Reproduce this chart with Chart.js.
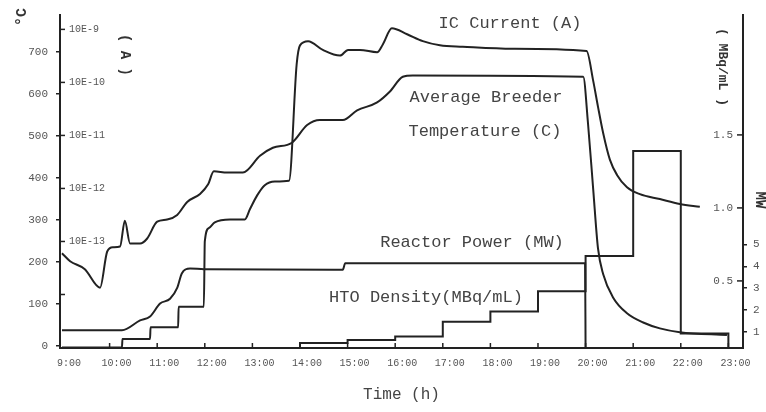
<!DOCTYPE html>
<html>
<head>
<meta charset="utf-8">
<script src="https://cdn.jsdelivr.net/npm/chart.js@4.4.0/dist/chart.umd.min.js"></script>
<style>
  html, body { margin: 0; padding: 0; background: #fff; }
</style>
</head>
<body>
<canvas id="runChart" width="766" height="412"></canvas>
<script>
// Time axis (h)
let hourTicks = [9, 10, 11, 12, 13, 14, 15, 16, 17, 18, 19, 20, 21, 22, 23];
let hourLabels = ["9:00", "10:00", "11:00", "12:00", "13:00", "14:00", "15:00", "16:00",
                  "17:00", "18:00", "19:00", "20:00", "21:00", "22:00", "23:00"];

// Average breeder temperature (C)
let tempHours = [9.00, 9.17, 9.48, 9.80, 9.95, 10.07, 10.22, 10.32, 10.43, 10.64, 10.79, 11.00,
                 11.21, 11.42, 11.63, 11.90, 12.07, 12.19, 12.47, 12.80, 13.16, 13.43, 13.83,
                 14.15, 14.42, 14.90, 15.20, 15.62, 15.89, 16.16, 16.37, 19.95, 20.05, 20.16,
                 20.26, 20.37, 20.58, 20.87, 21.21, 21.56, 21.98, 22.97];
let tempValues = [221, 202, 183, 139, 225, 235, 237, 298, 244, 244, 256, 296,
                  301, 312, 343, 362, 385, 416, 413, 413, 453, 472, 484,
                  526, 538, 538, 561, 580, 606, 641, 644, 641, 531, 373,
                  233, 171, 115, 78, 56, 42, 33, 26];

// IC current (A)
let icHours = [9.00, 10.26, 10.27, 10.85, 10.86, 11.44, 11.45, 11.98, 12.00, 12.09, 12.21, 12.53,
               12.84, 12.95, 13.10, 13.26, 13.47, 13.77, 13.93, 14.00, 14.17, 14.48, 14.84,
               15.01, 15.26, 15.62, 15.74, 15.93, 16.25, 16.58, 16.94, 17.42, 18.47, 20.02,
               20.16, 20.26, 20.37, 20.51, 20.66, 20.87, 21.14, 21.56, 21.98, 22.40];
let icValues = [1.0e-15, 1.0e-15, 1.45e-15, 1.45e-15, 2.4e-15, 2.4e-15, 5.9e-15, 5.9e-15, 1.0e-13, 1.8e-13, 2.3e-13, 2.6e-13,
                2.6e-13, 4.1e-13, 7.4e-13, 1.15e-12, 1.35e-12, 1.4e-12, 2.2e-10, 5.0e-10, 6.0e-10, 4.1e-10, 3.2e-10,
                4.1e-10, 4.1e-10, 3.7e-10, 5.2e-10, 1.05e-9, 8.1e-10, 6.0e-10, 5.0e-10, 4.7e-10, 4.3e-10, 3.9e-10,
                1.07e-10, 3.5e-11, 1.1e-11, 3.5e-12, 1.8e-12, 1.05e-12, 7.8e-13, 6.3e-13, 5.1e-13, 4.5e-13];

// Reactor power (MW)
let powerHours = [9.00, 10.26, 10.64, 10.85, 11.06, 11.27, 11.42, 11.52, 11.69, 11.98, 14.90, 14.95, 19.99, 20.00];
let powerValues = [1.08, 1.08, 1.53, 1.71, 2.30, 2.52, 3.02, 3.69, 3.90, 3.87, 3.85, 4.14, 4.14, 0];

// HTO density (MBq/mL), one value per sampling hour
let htoHours = [9, 14, 15, 16, 17, 18, 19, 20, 21, 22, 23];
let htoValues = [0, 0.074, 0.095, 0.12, 0.22, 0.29, 0.43, 0.67, 1.39, 0.14, 0];

// axis ticks
let tempTicks = [0, 100, 200, 300, 400, 500, 600, 700];
let icTicks = [1e-9, 1e-10, 1e-11, 1e-12, 1e-13, 1e-14];
let icTickLabels = ["10E-9", "10E-10", "10E-11", "10E-12", "10E-13", ""];
let htoTicks = [0.5, 1.0, 1.5];
let htoTickLabels = ["0.5", "1.0", "1.5"];
let powerTicks = [1, 2, 3, 4, 5];

const ink = "#222";
const grey = "#555";
const mono = '"Liberation Mono", "DejaVu Sans Mono", monospace';

function pairs(xs, ys) {
  return xs.map((x, i) => ({ x: x, y: ys[i] }));
}

function setTicks(list) {
  return function (scale) { scale.ticks = list.map(v => ({ value: v })); };
}

// extra ticks, inner labels and curve names
const annotate = {
  id: 'annotate',
  afterDraw(chart) {
    const ctx = chart.ctx;
    const a = chart.chartArea;
    const s = chart.scales;
    ctx.save();
    ctx.strokeStyle = ink;
    ctx.lineWidth = 1.5;
    ctx.fillStyle = grey;

    // hour marks pointing up from the time axis
    hourTicks.forEach(h => {
      if (h === 9) return;
      const x = s.x.getPixelForValue(h);
      ctx.beginPath(); ctx.moveTo(x, a.bottom); ctx.lineTo(x, a.bottom - 5); ctx.stroke();
    });

    // IC current scale, inside the left axis
    ctx.font = '10px ' + mono;
    ctx.textAlign = 'left';
    ctx.textBaseline = 'middle';
    icTicks.forEach((v, i) => {
      const y = s.ic.getPixelForValue(v);
      ctx.beginPath(); ctx.moveTo(a.left, y); ctx.lineTo(a.left + 5, y); ctx.stroke();
      if (icTickLabels[i]) ctx.fillText(icTickLabels[i], a.left + 9, y);
    });

    // HTO scale, inside the right axis
    ctx.font = '11px ' + mono;
    ctx.textAlign = 'right';
    htoTicks.forEach((v, i) => {
      const y = s.hto.getPixelForValue(v);
      ctx.beginPath(); ctx.moveTo(a.right, y); ctx.lineTo(a.right - 6, y); ctx.stroke();
      ctx.fillText(htoTickLabels[i], a.right - 10, y);
    });

    // curve names
    ctx.fillStyle = "#444";
    ctx.font = '17px ' + mono;
    ctx.textAlign = 'center';
    ctx.fillText("IC Current (A)", 510, 23);
    ctx.fillText("Average Breeder", 486, 97);
    ctx.fillText("Temperature (C)", 485, 131);
    ctx.fillText("Reactor Power (MW)", 472, 242);
    ctx.fillText("HTO Density(MBq/mL)", 426, 297);

    // rotated unit labels
    ctx.fillStyle = "#333";
    function turned(text, x, y, ang, font) {
      ctx.save();
      ctx.translate(x, y);
      ctx.rotate(ang);
      ctx.font = font;
      ctx.fillText(text, 0, 0);
      ctx.restore();
    }
    turned("°C", 22, 17, -Math.PI / 2, 'bold 15px ' + mono);
    turned("( A )", 125, 55, Math.PI / 2, 'bold 14px ' + mono);
    turned("( MBq/mL )", 722, 67, Math.PI / 2, 'bold 13px ' + mono);
    turned("MW", 760, 200, Math.PI / 2, 'bold 14px ' + mono);
    ctx.restore();
  }
};

const lineStyle = {
  borderColor: ink,
  borderWidth: 2,
  pointRadius: 0,
  fill: false
};

let runChart = new Chart(document.getElementById("runChart"), {
  type: 'line',
  data: {
    datasets: [
      Object.assign({ label: "Average Breeder Temperature (C)", data: pairs(tempHours, tempValues),
        yAxisID: 'temp', cubicInterpolationMode: 'monotone' }, lineStyle),
      Object.assign({ label: "IC Current (A)", data: pairs(icHours, icValues),
        yAxisID: 'ic', cubicInterpolationMode: 'monotone' }, lineStyle),
      Object.assign({ label: "Reactor Power (MW)", data: pairs(powerHours, powerValues),
        yAxisID: 'power', cubicInterpolationMode: 'monotone' }, lineStyle),
      Object.assign({ label: "HTO Density (MBq/mL)", data: pairs(htoHours, htoValues),
        yAxisID: 'hto', stepped: true }, lineStyle)
    ]
  },
  options: {
    responsive: false,
    animation: false,
    layout: { padding: { top: 10, left: 0, right: 0, bottom: 0 } },
    plugins: {
      legend: { display: false },
      tooltip: { enabled: false }
    },
    scales: {
      x: {
        type: 'linear',
        min: 8.958,
        max: 23.307,
        afterBuildTicks: setTicks(hourTicks),
        afterFit(scale) { scale.height = 64; },
        grid: { drawOnChartArea: false, drawTicks: false },
        border: { color: ink, width: 2 },
        ticks: {
          autoSkip: false, maxRotation: 0, padding: 9, labelOffset: 7,
          color: grey, font: { family: mono, size: 10 },
          callback: (v, i) => hourLabels[i]
        },
        title: {
          display: true, text: "Time (h)", color: "#444",
          font: { family: mono, size: 16 }, padding: { top: 0, bottom: 8 }
        }
      },
      temp: {
        type: 'linear',
        position: 'left',
        min: -4.7,
        max: 789,
        afterBuildTicks: setTicks(tempTicks),
        afterFit(scale) { scale.width = 60; },
        grid: { drawOnChartArea: false, tickLength: 4, color: ink, lineWidth: 1.5 },
        border: { color: ink, width: 2 },
        ticks: { padding: 8, color: grey, font: { family: mono, size: 11 } }
      },
      ic: {
        type: 'logarithmic',
        display: false,
        min: 9.79e-16,
        max: 1.90e-9
      },
      hto: {
        type: 'linear',
        display: false,
        min: 0.0405,
        max: 2.324
      },
      power: {
        type: 'linear',
        position: 'right',
        min: 0.27,
        max: 15.5,
        afterBuildTicks: setTicks(powerTicks),
        afterFit(scale) { scale.width = 23; },
        grid: { drawOnChartArea: false, tickLength: 4, color: ink, lineWidth: 1.5 },
        border: { color: ink, width: 2 },
        ticks: { padding: 6, color: grey, font: { family: mono, size: 11 } }
      }
    }
  },
  plugins: [annotate]
});
</script>
</body>
</html>
